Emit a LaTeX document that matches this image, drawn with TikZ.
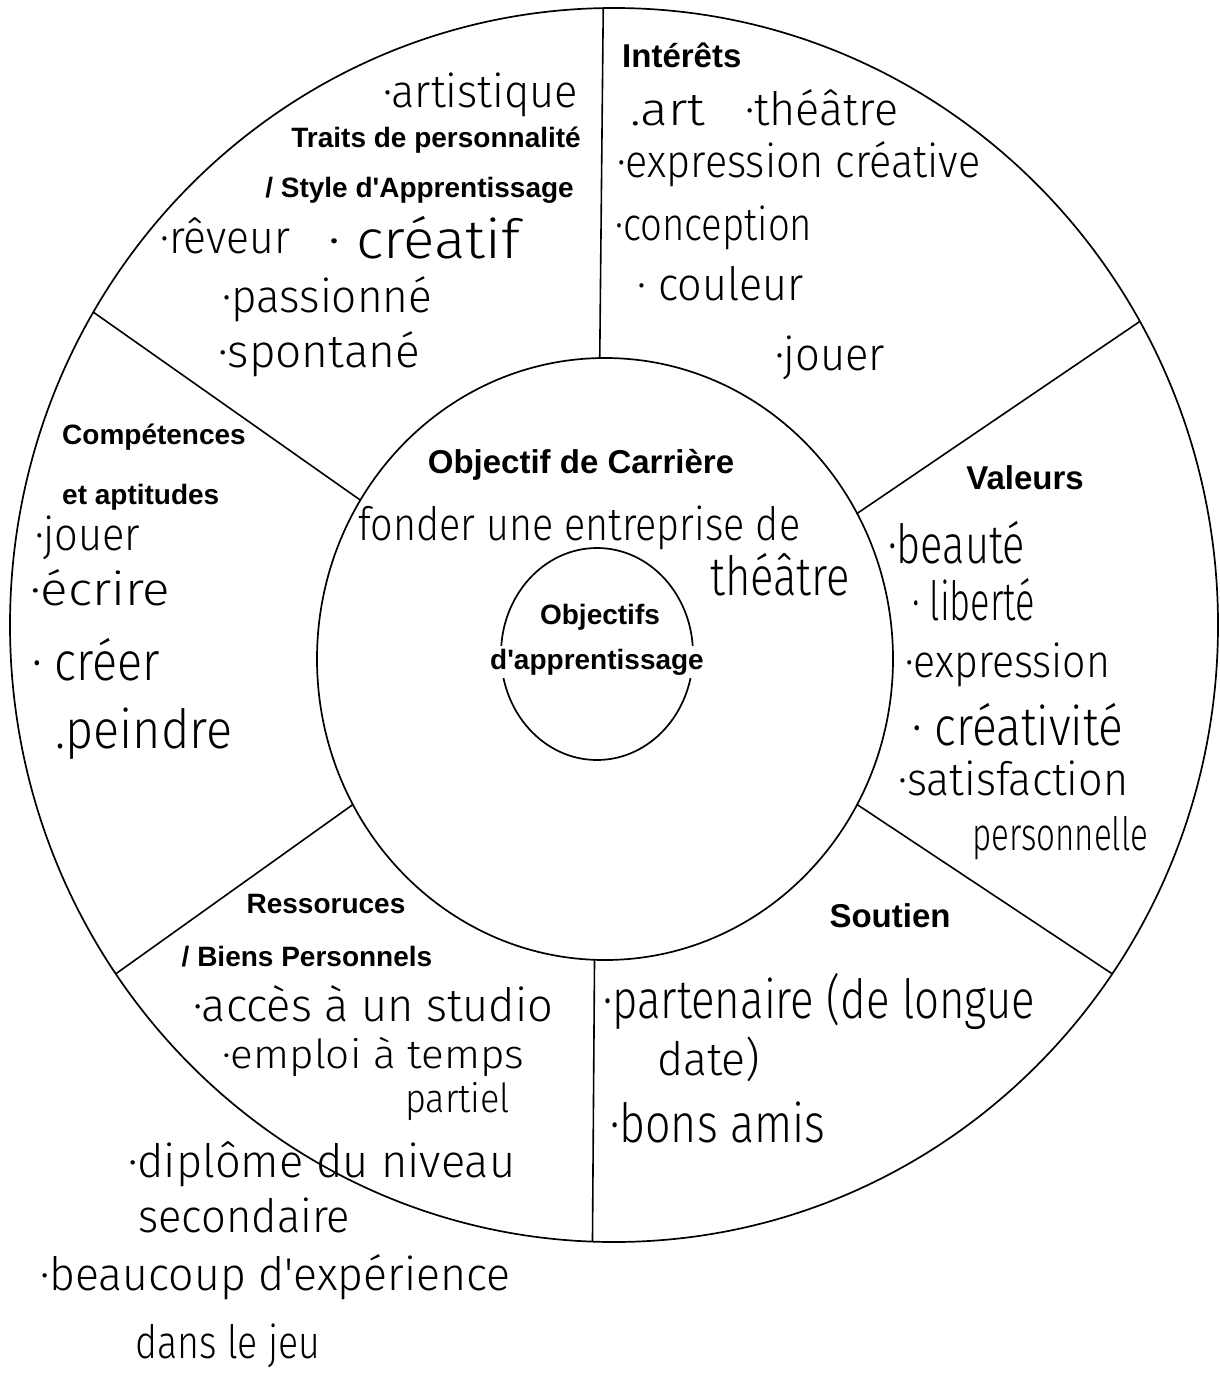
\documentclass[tikz,border=0pt]{standalone}
\usepackage{fontspec}
\newfontfamily\labfont{Liberation Sans}
\newfontfamily\handfont{Fira Sans Light}
\usetikzlibrary{shapes.geometric}
% handwritten entries: fixed height, squeezed or stretched to a given width
\newcommand\hwfit[2]{\resizebox{#1pt}{\height}{#2}}
\begin{document}
\begin{tikzpicture}[x=1pt,y=-1pt,
  ring/.style={draw=black, line width=1.7pt, ellipse, inner sep=0pt, outer sep=0pt},
  divider/.style={draw=black, line width=1.6pt},
  lab/.style={font=\labfont\bfseries\fontsize{28}{30}\selectfont, inner sep=0pt},
  biglab/.style={font=\labfont\bfseries\fontsize{33}{36}\selectfont, inner sep=0pt},
  hand/.style={font=\handfont\fontsize{46}{50}\selectfont, inner sep=0pt, anchor=base west},
  smallhand/.style={hand, font=\handfont\fontsize{40}{44}\selectfont},
  bighand/.style={hand, font=\handfont\fontsize{54}{58}\selectfont},
]
\useasboundingbox[fill=white] (0,0) rectangle (1220,1397);

% the three rings
\node[ring, minimum width=1208pt, minimum height=1234pt] (outer) at (614,625) {};
\node[ring, minimum width=576pt, minimum height=602pt] (mid) at (605,659) {};
\node[ring, minimum width=192pt, minimum height=212pt] (inner) at (597,654) {};

% sector dividers between middle and outer ring
\draw[divider] (mid.91)  -- (outer.91);
\draw[divider] (mid.147) -- (outer.149);
\draw[divider] (mid.30)  -- (outer.30);
\draw[divider] (mid.330) -- (outer.325);
\draw[divider] (mid.210) -- (outer.215);
\draw[divider] (mid.268) -- (outer.268);

% printed headings
\node[lab, anchor=east] (tTraits) at (581,140) {Traits de personnalité};
\node[lab, anchor=east] (tStyle) at (574,190) {/ Style d'Apprentissage};
\node[biglab, anchor=west] (tInt) at (622,55) {Intérêts};
\node[lab, anchor=west] (tComp) at (62,437) {Compétences};
\node[lab, anchor=west] (tApt) at (62,497) {et aptitudes};
\node[biglab] (tCar) at (581,465) {Objectif de Carrière};
\node[lab] (tObj) at (600,617) {Objectifs};
\node[lab, fill=white, inner sep=3pt] (tApp) at (597,662) {d'apprentissage};
\node[biglab] (tVal) at (1025,478) {Valeurs};
\node[biglab] (tSou) at (890,916) {Soutien};
\node[lab] (tRes) at (326,904) {Ressoruces};
\node[lab] (tBiens) at (307,957) {/ Biens Personnels};

% handwritten entries: traits
\node[hand] (hArt) at (383,107) {\hwfit{195}{·artistique}};
\node[hand] (hRev) at (160,253) {\hwfit{130}{·rêveur}};
\node[bighand] (hCrea) at (328,258) {\hwfit{192}{· créatif}};
\node[hand] (hPas) at (222,312) {\hwfit{210}{·passionné}};
\node[hand] (hSpo) at (218,367) {\hwfit{202}{·spontané}};

% interests
\node[hand] (iArt) at (630,125) {\hwfit{75}{.art}};
\node[hand] (iThe) at (745,125) {\hwfit{153}{·théâtre}};
\node[hand] (iExp) at (617,177) {\hwfit{363}{·expression créative}};
\node[hand] (iCon) at (615,240) {\hwfit{197}{·conception}};
\node[hand] (iCou) at (637,300) {\hwfit{166}{· couleur}};
\node[hand] (iJou) at (775,370) {\hwfit{110}{·jouer}};

% skills
\node[hand] (cJou) at (35,550) {\hwfit{105}{·jouer}};
\node[hand] (cEcr) at (30,605) {\hwfit{140}{·écrire}};
\node[bighand] (cCre) at (32,680) {\hwfit{128}{· créer}};
\node[bighand] (cPei) at (55,748) {\hwfit{177}{.peindre}};

% career goal
\node[hand] (gFon) at (358,540) {\hwfit{442}{fonder une entreprise de}};
\node[bighand] (gThe) at (710,595) {\hwfit{140}{théâtre}};

% values
\node[bighand] (vBea) at (888,563) {\hwfit{137}{·beauté}};
\node[bighand] (vLib) at (912,620) {\hwfit{123}{· liberté}};
\node[hand] (vExp) at (905,677) {\hwfit{205}{·expression}};
\node[bighand] (vCre) at (912,745) {\hwfit{211}{· créativité}};
\node[hand] (vSat) at (898,795) {\hwfit{230}{·satisfaction}};
\node[hand] (vPer) at (972,850) {\hwfit{176}{personnelle}};

% resources
\node[hand] (rAcc) at (193,1021) {\hwfit{360}{·accès à un studio}};
\node[smallhand] (rEmp) at (222,1068) {\hwfit{302}{·emploi à temps}};
\node[smallhand] (rPar) at (405,1112) {\hwfit{105}{partiel}};
\node[hand] (rDip) at (128,1177) {\hwfit{387}{·diplôme du niveau}};
\node[hand] (rSec) at (138,1232) {\hwfit{212}{secondaire}};
\node[hand] (rBea) at (40,1290) {\hwfit{470}{·beaucoup d'expérience}};
\node[hand] (rDan) at (135,1358) {\hwfit{185}{dans le jeu}};

% support
\node[bighand] (sPar) at (603,1018) {\hwfit{432}{·partenaire (de longue}};
\node[hand] (sDat) at (657,1075) {\hwfit{103}{date)}};
\node[bighand] (sBon) at (610,1142) {\hwfit{215}{·bons amis}};
\end{tikzpicture}
\end{document}
